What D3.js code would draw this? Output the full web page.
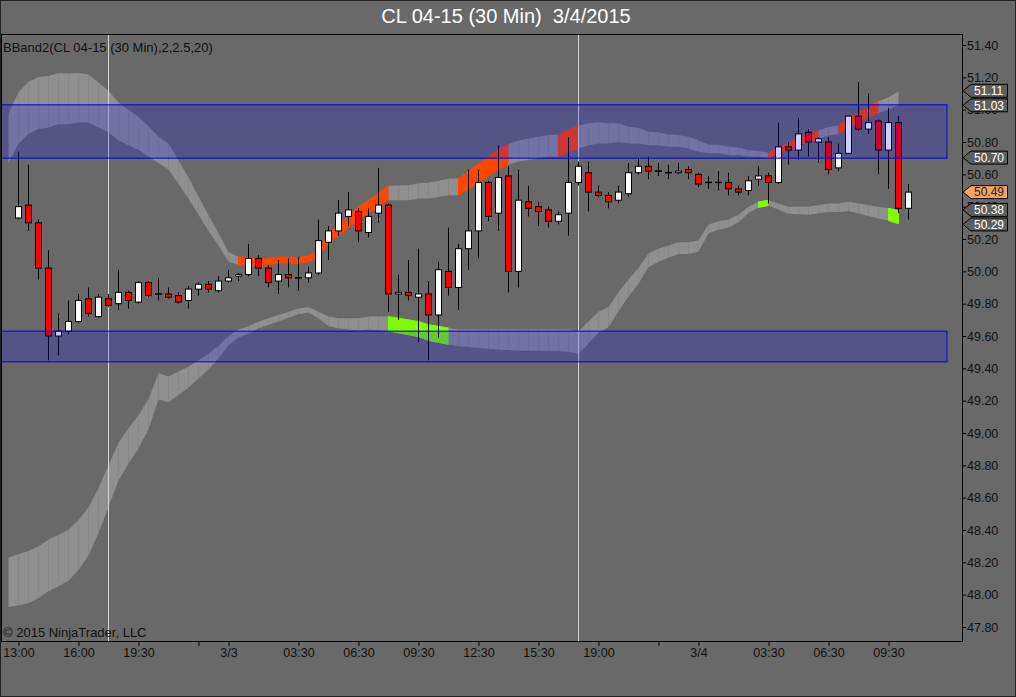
<!DOCTYPE html>
<html>
<head>
<meta charset="utf-8">
<script src="https://d3js.org/d3.v7.min.js"></script>
<style>
  body { margin: 0; background: #696969; }
  svg { display: block; font-family: "Liberation Sans", Arial, sans-serif; }
</style>
</head>
<body>
<div class="canvas"></div>
<script>
// bar data, 30 min bars, 13:00 on 3/2 .. 09:30 on 3/4
const opens = [50.33,50.41,50.30,50.02,49.60,49.63,49.69,49.83,49.72,49.83,
  49.80,49.87,49.81,49.93,49.86,49.86,49.85,49.82,49.89,49.92,
  49.88,49.94,49.97,49.98,50.08,50.02,49.94,49.98,49.96,49.96,
  49.99,50.18,50.25,50.34,50.37,50.24,50.36,50.41,49.86,49.87,
  49.84,49.86,49.73,50.00,49.90,50.14,50.25,50.55,50.36,50.59,
  50.00,50.43,50.40,50.38,50.31,50.36,50.55,50.61,50.49,50.47,
  50.44,50.48,50.61,50.65,50.62,50.61,50.61,50.63,50.60,50.55,
  50.55,50.55,50.51,50.50,50.57,50.59,50.55,50.77,50.75,50.86,
  50.80,50.80,50.64,50.73,50.96,50.88,50.93,50.75,50.92,50.39];
const highs = [50.74,50.66,50.32,50.13,49.74,49.82,49.86,49.90,49.86,49.86,
  50.01,49.88,49.94,49.94,49.96,49.90,49.87,49.91,49.93,49.94,
  49.97,50.01,49.99,50.17,50.10,50.04,50.07,50.08,50.09,50.03,
  50.32,50.28,50.44,50.49,50.39,50.39,50.64,50.42,49.98,50.07,
  50.14,49.94,50.06,50.27,50.17,50.63,50.63,50.56,50.78,50.65,
  50.63,50.53,50.43,50.40,50.37,50.83,50.68,50.68,50.53,50.49,
  50.53,50.67,50.70,50.71,50.67,50.66,50.67,50.65,50.61,50.59,
  50.62,50.61,50.53,50.59,50.65,50.61,50.92,50.80,50.95,50.88,
  50.83,50.83,50.79,50.96,51.17,51.10,50.94,51.01,50.96,50.54];
const lows = [50.32,50.25,49.95,49.45,49.48,49.61,49.68,49.72,49.71,49.78,
  49.76,49.77,49.80,49.84,49.82,49.83,49.80,49.77,49.85,49.87,
  49.87,49.93,49.94,49.97,49.97,49.90,49.86,49.90,49.88,49.93,
  49.98,50.07,50.22,50.28,50.18,50.21,50.30,49.75,49.70,49.82,
  49.56,49.45,49.59,49.85,49.76,50.01,50.08,50.31,50.25,49.87,
  49.90,50.34,50.28,50.27,50.29,50.22,50.53,50.37,50.46,50.39,
  50.42,50.46,50.60,50.57,50.59,50.57,50.60,50.57,50.52,50.51,
  50.50,50.47,50.47,50.47,50.53,50.42,50.54,50.66,50.69,50.71,
  50.67,50.60,50.62,50.73,50.87,50.85,50.60,50.51,50.36,50.32];
const closes = [50.40,50.30,50.02,49.60,49.63,49.69,49.82,49.74,49.84,49.79,
  49.87,49.82,49.93,49.85,49.86,49.84,49.81,49.89,49.92,49.89,
  49.94,49.96,49.98,50.08,50.02,49.93,49.98,49.96,49.96,49.99,
  50.19,50.25,50.36,50.38,50.25,50.34,50.41,49.86,49.87,49.85,
  49.86,49.73,50.01,49.90,50.14,50.25,50.55,50.34,50.58,50.00,
  50.44,50.39,50.37,50.31,50.35,50.55,50.65,50.49,50.47,50.43,
  50.49,50.61,50.65,50.62,50.62,50.61,50.62,50.61,50.54,50.55,
  50.55,50.51,50.49,50.56,50.59,50.55,50.77,50.75,50.85,50.80,
  50.82,50.63,50.73,50.96,50.88,50.92,50.75,50.92,50.39,50.49];

// BBand2 2-sigma lines, one value per slot; slot k sits on bar k-1
const bbUpper = [50.67,50.79,50.85,50.88,50.89,50.91,50.91,50.92,50.92,50.89,
  50.86,50.81,50.78,50.75,50.71,50.67,50.63,50.54,50.45,50.35,
  50.25,50.16,50.06,50.04,50.04,50.03,50.04,50.05,50.05,50.05,
  50.06,50.09,50.18,50.22,50.27,50.32,50.36,50.40,50.44,50.44,
  50.44,50.45,50.45,50.46,50.47,50.47,50.51,50.55,50.59,50.63,
  50.66,50.68,50.69,50.70,50.71,50.71,50.74,50.76,50.78,50.79,
  50.79,50.80,50.79,50.79,50.78,50.78,50.77,50.77,50.76,50.74,
  50.73,50.73,50.72,50.72,50.71,50.71,50.70,50.73,50.75,50.78,
  50.80,50.82,50.84,50.85,50.89,50.92,50.95,50.98,51.00,51.031];
const bbLower = [48.23,48.25,48.27,48.30,48.34,48.37,48.40,48.46,48.54,48.66,
  48.80,48.94,49.03,49.11,49.21,49.37,49.35,49.38,49.41,49.45,
  49.49,49.54,49.60,49.64,49.66,49.69,49.71,49.73,49.75,49.77,
  49.78,49.75,49.72,49.71,49.71,49.71,49.72,49.72,49.72,49.71,
  49.70,49.69,49.67,49.66,49.65,49.64,49.64,49.64,49.64,49.64,
  49.64,49.64,49.64,49.64,49.64,49.64,49.64,49.63,49.69,49.75,
  49.78,49.87,49.95,50.02,50.11,50.14,50.16,50.18,50.18,50.19,
  50.29,50.31,50.32,50.35,50.40,50.43,50.44,50.42,50.40,50.40,
  50.40,50.41,50.42,50.42,50.43,50.42,50.41,50.40,50.39,50.376];

// slot ranges where the band is touched
const upperSignals = [[23, 38], [45, 50], [55, 57], [76, 81], [83, 87]];
const lowerSignals = [[38, 44], [75, 76], [88, 89]];

// drawn price zones and session breaks
const priceZones = [[50.70, 51.03], [49.44, 49.63]];
const zoneEndBar = 92.85;
const sessionBreaks = [9, 56];

const yTicks = [47.8,48.0,48.2,48.4,48.6,48.8,49.0,49.2,49.4,49.6,
  49.8,50.0,50.2,50.4,50.6,50.8,51.0,51.2,51.4];
const xTickBars = [0, 6, 12, 18, 21, 28, 34, 40, 46, 52, 58, 64, 68, 75, 81, 87];
const xTickLabels = ['13:00','16:00','19:30','','3/3','03:30','06:30','09:30',
  '12:30','15:30','19:00','','3/4','03:30','06:30','09:30'];

const width = 1016, height = 697;
const plotTop = 34, plotBottom = 641, axisX = 962;

const svg = d3.select('.canvas')
  .append('svg')
    .attr('width', width)
    .attr('height', height);

svg.append('rect')
  .attr('width', width)
  .attr('height', height)
  .attr('fill', '#696969');

const x = d3.scaleLinear().domain([0, 89]).range([18.5, 908.5]);
const y = d3.scaleLinear().domain([47.8, 51.4]).range([627, 45]);

// bollinger ribbons between 2 and 2.5 sigma
const band = bbUpper.map((u, k) => {
  const l = bbLower[k];
  const mid = (u + l) / 2, sd = (u - l) / 4;
  return { x: x(k - 1), u2: u, l2: l, mid, u25: mid + 2.5 * sd, l25: mid - 2.5 * sd };
});

const inRanges = (s, ranges) => ranges.some(([a, b]) => s >= a && s < b);

const ribbons = svg.append('g');
const segs = d3.range(band.length - 1);

ribbons.selectAll('.up')
  .data(segs)
  .enter()
  .append('polygon')
    .attr('points', s => {
      const a = band[s], b = band[s + 1];
      return [[a.x, y(a.u25)], [b.x, y(b.u25)], [b.x, y(b.u2)], [a.x, y(a.u2)]].join(' ');
    })
    .attr('fill', s => inRanges(s, upperSignals) ? '#ff4500' : '#8f8f8f')
    .attr('stroke', s => inRanges(s, upperSignals) ? '#ff4500' : 'none')
    .attr('stroke-width', 1);

ribbons.selectAll('.low')
  .data(segs)
  .enter()
  .append('polygon')
    .attr('points', s => {
      const a = band[s], b = band[s + 1];
      return [[a.x, y(a.l2)], [b.x, y(b.l2)], [b.x, y(b.l25)], [a.x, y(a.l25)]].join(' ');
    })
    .attr('fill', s => inRanges(s, lowerSignals) ? '#7cfc00' : '#8f8f8f')
    .attr('stroke', s => inRanges(s, lowerSignals) ? '#7cfc00' : 'none')
    .attr('stroke-width', 1);

// session break lines
svg.selectAll('.session')
  .data(sessionBreaks)
  .enter()
  .append('line')
    .attr('x1', d => x(d)).attr('x2', d => x(d))
    .attr('y1', plotTop).attr('y2', plotBottom)
    .attr('stroke', '#d4d4d4')
    .attr('stroke-width', 1);

// candles
const candles = svg.append('g')
  .selectAll('g')
  .data(opens.map((o, i) => ({ i, o, h: highs[i], l: lows[i], c: closes[i] })))
  .enter()
  .append('g');

candles.append('line')
  .attr('x1', d => x(d.i)).attr('x2', d => x(d.i))
  .attr('y1', d => y(d.h)).attr('y2', d => y(d.l))
  .attr('stroke', '#000')
  .attr('stroke-width', 1);

candles.filter(d => d.o !== d.c)
  .append('rect')
    .attr('x', d => x(d.i) - 3)
    .attr('width', 6)
    .attr('y', d => y(Math.max(d.o, d.c)))
    .attr('height', d => Math.abs(y(d.o) - y(d.c)))
    .attr('fill', d => d.c > d.o ? '#ffffff' : '#ff0000')
    .attr('stroke', '#000')
    .attr('stroke-width', 1);

candles.filter(d => d.o === d.c)
  .append('line')
    .attr('x1', d => x(d.i) - 3.5).attr('x2', d => x(d.i) + 3.5)
    .attr('y1', d => y(d.o)).attr('y2', d => y(d.o))
    .attr('stroke', '#000')
    .attr('stroke-width', 1.5);

// zones on top
svg.selectAll('.zone')
  .data(priceZones)
  .enter()
  .append('rect')
    .attr('x', 0.5)
    .attr('width', x(zoneEndBar) - 0.5)
    .attr('y', d => y(d[1]))
    .attr('height', d => y(d[0]) - y(d[1]))
    .attr('fill', 'blue')
    .attr('fill-opacity', 0.2)
    .attr('stroke', '#0000dd')
    .attr('stroke-width', 1);

// texts
svg.append('text')
  .attr('x', 506).attr('y', 23)
  .attr('text-anchor', 'middle')
  .attr('fill', '#fff')
  .style('font-size', '20px')
  .style('white-space', 'pre')
  .text('CL 04-15 (30 Min)  3/4/2015');

svg.append('text')
  .attr('x', 3).attr('y', 52)
  .attr('fill', '#111')
  .style('font-size', '13px')
  .text('BBand2(CL 04-15 (30 Min),2,2.5,20)');

svg.append('text')
  .attr('x', 3).attr('y', 637)
  .attr('fill', '#111')
  .style('font-size', '13px')
  .text('© 2015 NinjaTrader, LLC');

// axes
const xAxisGroup = svg.append('g')
  .attr('transform', `translate(0, ${plotBottom})`);
const yAxisGroup = svg.append('g')
  .attr('transform', `translate(${axisX}, 0)`);

const xAxis = d3.axisBottom(x)
  .tickValues(xTickBars)
  .tickFormat((d, i) => xTickLabels[i])
  .tickSize(5)
  .tickPadding(2);
const yAxis = d3.axisRight(y)
  .tickValues(yTicks)
  .tickFormat(d3.format('.2f'))
  .tickSize(4)
  .tickPadding(1);

xAxisGroup.call(xAxis);
yAxisGroup.call(yAxis);

[xAxisGroup, yAxisGroup].forEach(g => {
  g.select('.domain').remove();
  g.selectAll('line').attr('stroke', '#000');
  g.selectAll('text')
    .attr('fill', '#111')
    .style('font-size', '12.5px')
    .style('font-family', '"Liberation Sans", Arial, sans-serif');
});

// frame
const frame = svg.append('g')
  .attr('stroke', '#000')
  .attr('stroke-width', 1)
  .attr('fill', 'none');
frame.append('path').attr('d', `M0,${plotTop + 0.5}H${axisX + 0.5}V${plotBottom + 0.5}H0`);
frame.append('path').attr('d', `M1.5,${plotTop}V${plotBottom}`);
frame.append('rect')
  .attr('x', 0.5).attr('y', 0.5)
  .attr('width', width - 1).attr('height', height - 1)
  .attr('stroke', '#222');

// price markers on the axis
const last = band[band.length - 1];
const markers = [
  { v: last.u25, fill: '#5e5e5e', color: '#fff' },
  { v: last.u2, fill: '#5e5e5e', color: '#fff' },
  { v: last.mid, fill: '#5e5e5e', color: '#fff' },
  { v: closes[closes.length - 1], fill: '#f4a460', color: '#222' },
  { v: last.l2, fill: '#5e5e5e', color: '#fff' },
  { v: last.l25, fill: '#5e5e5e', color: '#fff' }
];

// keep marker boxes from stacking on each other
markers.forEach(m => { m.py = y(m.v); });
markers.sort((a, b) => a.py - b.py);
for (let i = 1; i < markers.length; i++) {
  const gap = markers[i].py - markers[i - 1].py;
  if (gap < 14.5) {
    const push = (14.5 - gap) / 2;
    markers[i - 1].py -= push;
    markers[i].py += push;
  }
}

const mk = svg.selectAll('.marker')
  .data(markers)
  .enter()
  .append('g')
    .attr('transform', d => `translate(0, ${d.py})`);

mk.append('polygon')
  .attr('points', '963,0 971,-6.5 1007.5,-6.5 1007.5,6.5 971,6.5')
  .attr('fill', d => d.fill)
  .attr('stroke', '#000')
  .attr('stroke-width', 1);

mk.append('text')
  .attr('x', 974)
  .attr('dy', '0.36em')
  .attr('fill', d => d.color)
  .style('font-size', '12px')
  .text(d => d.v.toFixed(2));
</script>
</body>
</html>
